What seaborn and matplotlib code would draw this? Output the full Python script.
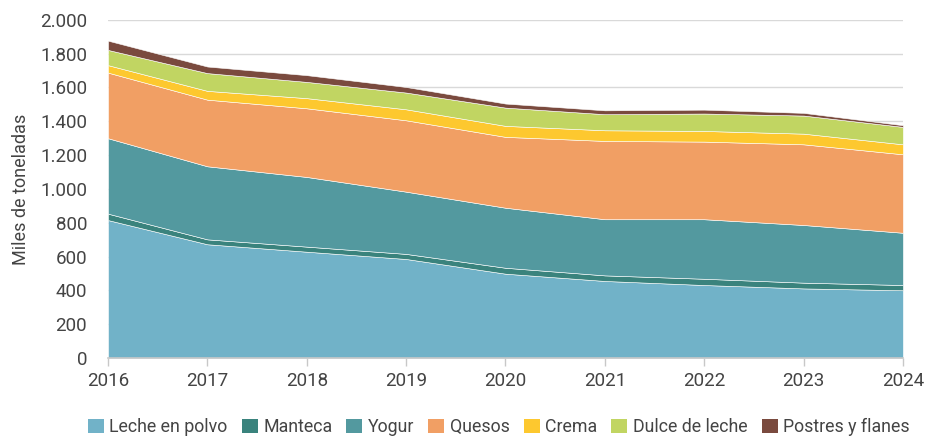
import matplotlib
matplotlib.use("Agg")
import matplotlib.pyplot as plt
from matplotlib.patches import Patch
from matplotlib.ticker import FuncFormatter, MultipleLocator
import pandas as pd
import seaborn as sns

sns.set_theme(style="white")
plt.rcParams["font.family"] = ["Roboto", "DejaVu Sans"]

# Producción por producto (miles de toneladas)
years = [2016, 2017, 2018, 2019, 2020, 2021, 2022, 2023, 2024]
leche_en_polvo = [816, 673, 629, 586, 499, 456, 432, 412, 401]
manteca = [38, 29, 30, 30, 35, 33, 37, 34, 31]
yogur = [446, 432, 412, 368, 355, 332, 352, 341, 309]
quesos = [388, 394, 406, 422, 419, 463, 459, 477, 464]
crema = [44, 52, 60, 65, 65, 63, 63, 63, 59]
dulce_de_leche = [90, 105, 96, 99, 108, 95, 103, 107, 103]
postres_y_flanes = [55, 39, 40, 33, 24, 23, 23, 16, 10]

series = ["Leche en polvo", "Manteca", "Yogur", "Quesos", "Crema",
          "Dulce de leche", "Postres y flanes"]
colors = ["#71B2C8", "#3A837D", "#53999F", "#F19F64", "#FDC82F",
          "#C1D562", "#7A4A3E"]

df = pd.DataFrame({
    "Leche en polvo": leche_en_polvo,
    "Manteca": manteca,
    "Yogur": yogur,
    "Quesos": quesos,
    "Crema": crema,
    "Dulce de leche": dulce_de_leche,
    "Postres y flanes": postres_y_flanes,
}, index=years)

fig, ax = plt.subplots(figsize=(9.27, 4.41), dpi=100)
fig.subplots_adjust(left=0.1165, right=0.974, top=0.955, bottom=0.188)

ax.stackplot(df.index, [df[s].values for s in series], colors=colors,
             labels=series, edgecolor="white", linewidth=0.4, zorder=2)

ax.set_xlim(2016, 2024)
ax.set_ylim(0, 2000)
ax.yaxis.set_major_locator(MultipleLocator(200))
ax.yaxis.set_major_formatter(
    FuncFormatter(lambda v, p: f"{int(v):,}".replace(",", ".")))
ax.set_xticks(years)
ax.grid(axis="y", color="#d9d9d9", lw=1, zorder=0)
ax.grid(axis="x", visible=False)

for side in ("left", "right", "top"):
    ax.spines[side].set_visible(False)
ax.spines["bottom"].set_color("#c8c8c8")
ax.spines["bottom"].set_linewidth(1.2)
ax.spines["bottom"].set_zorder(3)

ax.tick_params(axis="x", bottom=True, length=6, width=1, color="#c8c8c8",
               labelsize=13.5, labelcolor="#444444", pad=4)
ax.tick_params(axis="y", left=False, labelsize=13.5, labelcolor="#444444",
               pad=9)
ax.set_ylabel("Miles de toneladas", fontsize=13, color="#444444",
              labelpad=7)

handles = [Patch(facecolor=c, edgecolor="none") for c in colors]
fig.legend(handles, series, loc="lower center", ncol=7, frameon=False,
           bbox_to_anchor=(0.538, -0.025), fontsize=12.8, handlelength=0.9,
           handleheight=0.9, handletextpad=0.3, columnspacing=0.8,
           labelcolor="#444444")

fig.savefig("out.png", dpi=100)
plt.close(fig)
